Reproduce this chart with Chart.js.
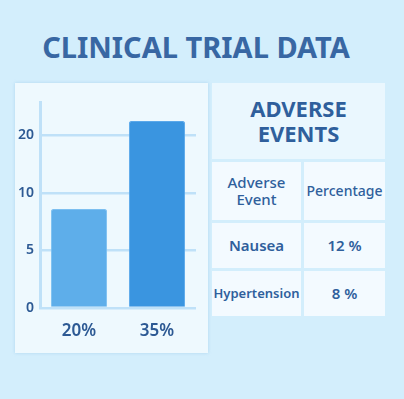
<!DOCTYPE html>
<html>
<head>
<meta charset="utf-8">
<script src="https://cdn.jsdelivr.net/npm/chart.js@4"></script>
<style>
  body { margin: 0; width: 404px; height: 399px; background: #d3eefc; font-family: "Noto Sans", sans-serif; position: relative; overflow: hidden; }
  #title { position: absolute; left: 0; top: 27px; width: 392px; text-align: center; font-size: 29px; font-weight: 700; color: #3867a3; letter-spacing: 0px; }
  #chartBox { position: absolute; left: 15px; top: 83px; width: 193px; height: 270px; background: #eef9fe; box-shadow: 0 0 3px rgba(150,200,235,0.6); }
  #tbl { position: absolute; left: 212px; top: 83px; width: 173px; }
  .cell { position: absolute; background: #f3faff; color: #2f5f9c; display: flex; align-items: center; justify-content: center; text-align: center; }
</style>
</head>
<body>
<div id="title">CLINICAL TRIAL DATA</div>
<div id="chartBox"><canvas id="myChart" width="193" height="270"></canvas></div>
<div id="tbl"></div>
<script>
const categories = ['20%', '35%'];
const barValues = [8.6, 22.5];
const tickLabels = [0, 5, 10, 20];
const tableTitle = 'ADVERSE EVENTS';
const tableHeader = ['Adverse Event', 'Percentage'];
const tableRows = [['Nausea', '12 %'], ['Hypertension', '8 %']];

// the axis puts its ticks at equal steps, so map a value onto tick positions
function toAxis(v) {
    for (let i = 1; i < tickLabels.length; i++) {
        if (v <= tickLabels[i] || i == tickLabels.length - 1) {
            return (i - 1) + (v - tickLabels[i - 1]) / (tickLabels[i] - tickLabels[i - 1]);
        }
    }
}

const ctx = document.getElementById('myChart').getContext('2d');
const myChart = new Chart(ctx, {
    type: 'bar',
    data: {
        labels: categories,
        datasets: [{
            data: barValues.map(toAxis),
            backgroundColor: ['#5eaeea', '#3a95e0'],
            borderColor: ['#7cbff0', '#5aa8ea'],
            borderWidth: 1,
            borderRadius: 2,
            borderSkipped: 'bottom',
            barPercentage: 0.72,
            categoryPercentage: 1
        }]
    },
    options: {
        responsive: false,
        animation: false,
        layout: { padding: { top: 19, right: 12 } },
        plugins: { legend: { display: false }, tooltip: { enabled: false } },
        scales: {
            x: {
                grid: { display: false },
                border: { display: false },
                ticks: { color: '#2d5a94', font: { family: 'Noto Sans', size: 17, weight: '600' }, padding: 5 },
                afterFit: function (scale) { scale.height = 45; }
            },
            y: {
                min: 0,
                max: 3.58,
                afterBuildTicks: function (scale) {
                    scale.ticks = tickLabels.map((t, i) => ({ value: i }));
                },
                ticks: {
                    color: '#2d5a94',
                    font: { family: 'Noto Sans', size: 14, weight: '600' },
                    padding: 6,
                    callback: function (value) { return String(tickLabels[value]); }
                },
                grid: { color: '#bfe1f8', lineWidth: 2.5, drawTicks: false },
                border: { display: true, color: '#bfe1f8', width: 3 },
                afterFit: function (scale) { scale.width = 25; }
            }
        }
    }
});

// table on the right
const tbl = document.getElementById('tbl');
function addCell(x, y, w, h, html, size, weight, bg) {
    const d = document.createElement('div');
    d.className = 'cell';
    d.style.left = x + 'px';
    d.style.top = y + 'px';
    d.style.width = w + 'px';
    d.style.height = h + 'px';
    d.style.fontSize = size + 'px';
    d.style.fontWeight = weight;
    d.style.lineHeight = '1.15';
    if (bg) d.style.background = bg;
    d.innerHTML = html;
    tbl.appendChild(d);
}
addCell(0, 0, 173, 76, tableTitle.replace(' ', '<br>'), 22, 700, '#eaf7fe');
addCell(0, 79, 89, 58, tableHeader[0].replace(' ', '<br>'), 15, 500);
addCell(92, 79, 81, 58, tableHeader[1], 14, 500);
let y = 140;
tableRows.forEach(function (row) {
    addCell(0, y, 89, 45, row[0], row[0].length > 8 ? 13 : 15, 600);
    addCell(92, y, 81, 45, row[1], 15, 600);
    y += 48;
});
</script>
</body>
</html>
